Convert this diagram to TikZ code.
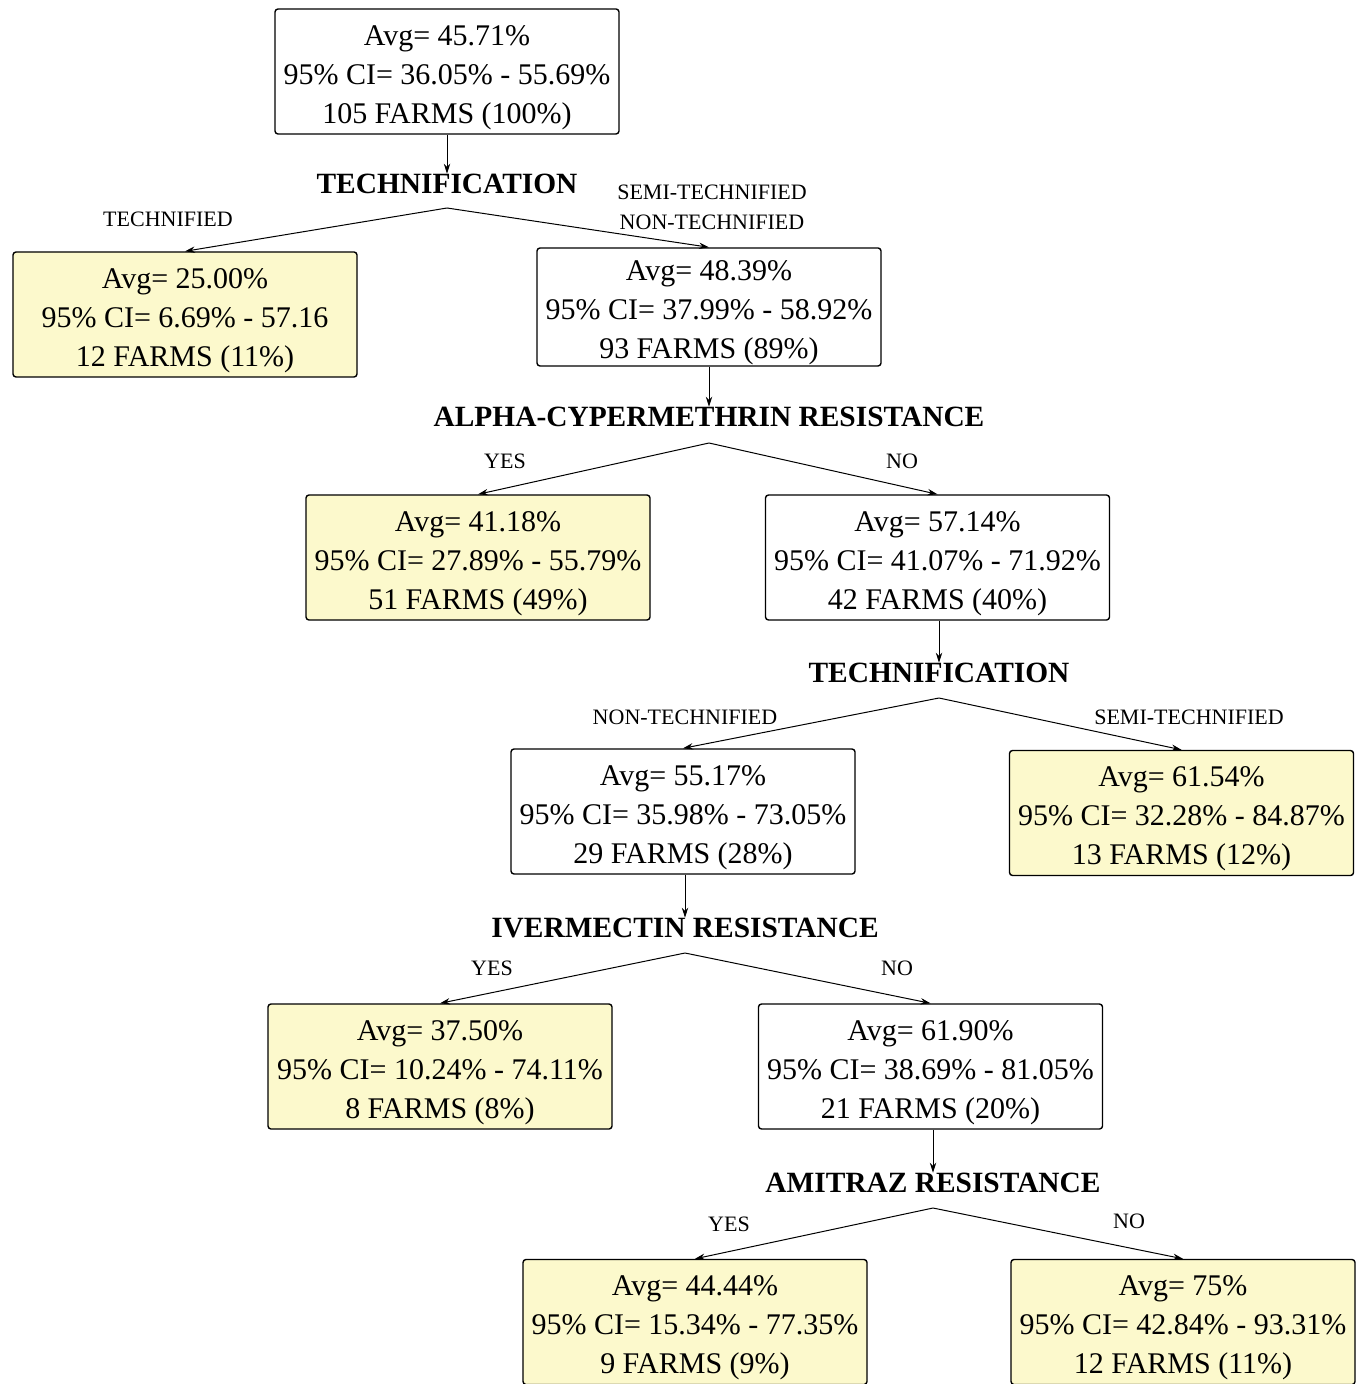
\documentclass[tikz,border=0pt]{standalone}
\usepackage{fontspec}
\setmainfont{Liberation Serif}
\usetikzlibrary{arrows.meta}
\newcommand{\stats}[3]{\rule{0pt}{16pt}Avg= #1\\95\% CI= #2\\#3}

\begin{document}
\begin{tikzpicture}[x=0.5pt, y=-0.5pt, every node/.style={inner sep=0pt}]
  \definecolor{leafcol}{RGB}{252,249,204}
  \tikzstyle{box}=[draw, line width=0.7pt, rounded corners=1.5pt, fill=white, minimum width=172pt, minimum height=62.5pt, align=center, font=\fontsize{15}{19.5}\selectfont]
  \tikzstyle{leaf}=[box, fill=leafcol]
  \tikzstyle{var}=[font=\fontsize{14.7}{15}\selectfont\bfseries]
  \tikzstyle{branch}=[font=\fontsize{11}{15}\selectfont, align=center]
  \tikzstyle{edge}=[-{Stealth[length=5pt, width=3.2pt]}, line width=0.5pt]
  \useasboundingbox (0,0) rectangle (1359,1384);
  \clip (0,0) rectangle (1359,1384);
  % level 0
  \node[box] (root) at (447,71.5) {\stats{45.71\%}{36.05\% - 55.69\%}{105 FARMS (100\%)}};
  \node[var] (tech1) at (447,184) {TECHNIFICATION};
  \coordinate (s1) at (447,208);
  \node[leaf] (techd) at (185,314.5) {\stats{25.00\%}{6.69\% - 57.16}{12 FARMS (11\%)}};
  \node[box, minimum height=59pt] (semi) at (709,307) {\stats{48.39\%}{37.99\% - 58.92\%}{93 FARMS (89\%)}};
  \node[branch] at (168,219) {TECHNIFIED};
  \node[branch] at (712,207) {SEMI-TECHNIFIED\\NON-TECHNIFIED};
  \draw[edge] (root) -- (tech1.north);
  \draw[edge] (s1) -- (techd.north);
  \draw[edge] (s1) -- (semi.north);
  % alpha-cypermethrin
  \node[var] (alpha) at (709,417) {ALPHA-CYPERMETHRIN RESISTANCE};
  \coordinate (s2) at (709,443);
  \node[leaf] (alphayes) at (478,557.5) {\stats{41.18\%}{27.89\% - 55.79\%}{51 FARMS (49\%)}};
  \node[box] (alphano) at (937.5,557.5) {\stats{57.14\%}{41.07\% - 71.92\%}{42 FARMS (40\%)}};
  \node[branch] at (505,461) {YES};
  \node[branch] at (902,461) {NO};
  \draw[edge] (semi) -- (alpha.north);
  \draw[edge] (s2) -- (alphayes.north);
  \draw[edge] (s2) -- (alphano.north);
  % technification again
  \node[var] (tech2) at (939,673) {TECHNIFICATION};
  \coordinate (s3) at (939,698);
  \node[box] (nontech) at (683,811.5) {\stats{55.17\%}{35.98\% - 73.05\%}{29 FARMS (28\%)}};
  \node[leaf] (semitech) at (1181.5,813) {\stats{61.54\%}{32.28\% - 84.87\%}{13 FARMS (12\%)}};
  \node[branch] at (685,717) {NON-TECHNIFIED};
  \node[branch] at (1189,717) {SEMI-TECHNIFIED};
  \draw[edge] (alphano.south -| tech2) -- (tech2.north);
  \draw[edge] (s3) -- (nontech.north);
  \draw[edge] (s3) -- (semitech.north);
  % ivermectin
  \node[var] (iver) at (685,928) {IVERMECTIN RESISTANCE};
  \coordinate (s4) at (685,953);
  \node[leaf] (iveryes) at (440,1066.5) {\stats{37.50\%}{10.24\% - 74.11\%}{8 FARMS (8\%)}};
  \node[box] (iverno) at (930.5,1066.5) {\stats{61.90\%}{38.69\% - 81.05\%}{21 FARMS (20\%)}};
  \node[branch] at (492,968) {YES};
  \node[branch] at (897,968) {NO};
  \draw[edge] (nontech.south -| iver) -- (iver.north);
  \draw[edge] (s4) -- (iveryes.north);
  \draw[edge] (s4) -- (iverno.north);
  % amitraz
  \node[var] (amit) at (933,1183) {AMITRAZ RESISTANCE};
  \coordinate (s5) at (933,1208);
  \node[leaf] (amityes) at (695,1322) {\stats{44.44\%}{15.34\% - 77.35\%}{9 FARMS (9\%)}};
  \node[leaf] (amitno) at (1183,1322) {\stats{75\%}{42.84\% - 93.31\%}{12 FARMS (11\%)}};
  \node[branch] at (729,1224) {YES};
  \node[branch] at (1129,1221) {NO};
  \draw[edge] (iverno.south -| amit) -- (amit.north);
  \draw[edge] (s5) -- (amityes.north);
  \draw[edge] (s5) -- (amitno.north);
\end{tikzpicture}
\end{document}
